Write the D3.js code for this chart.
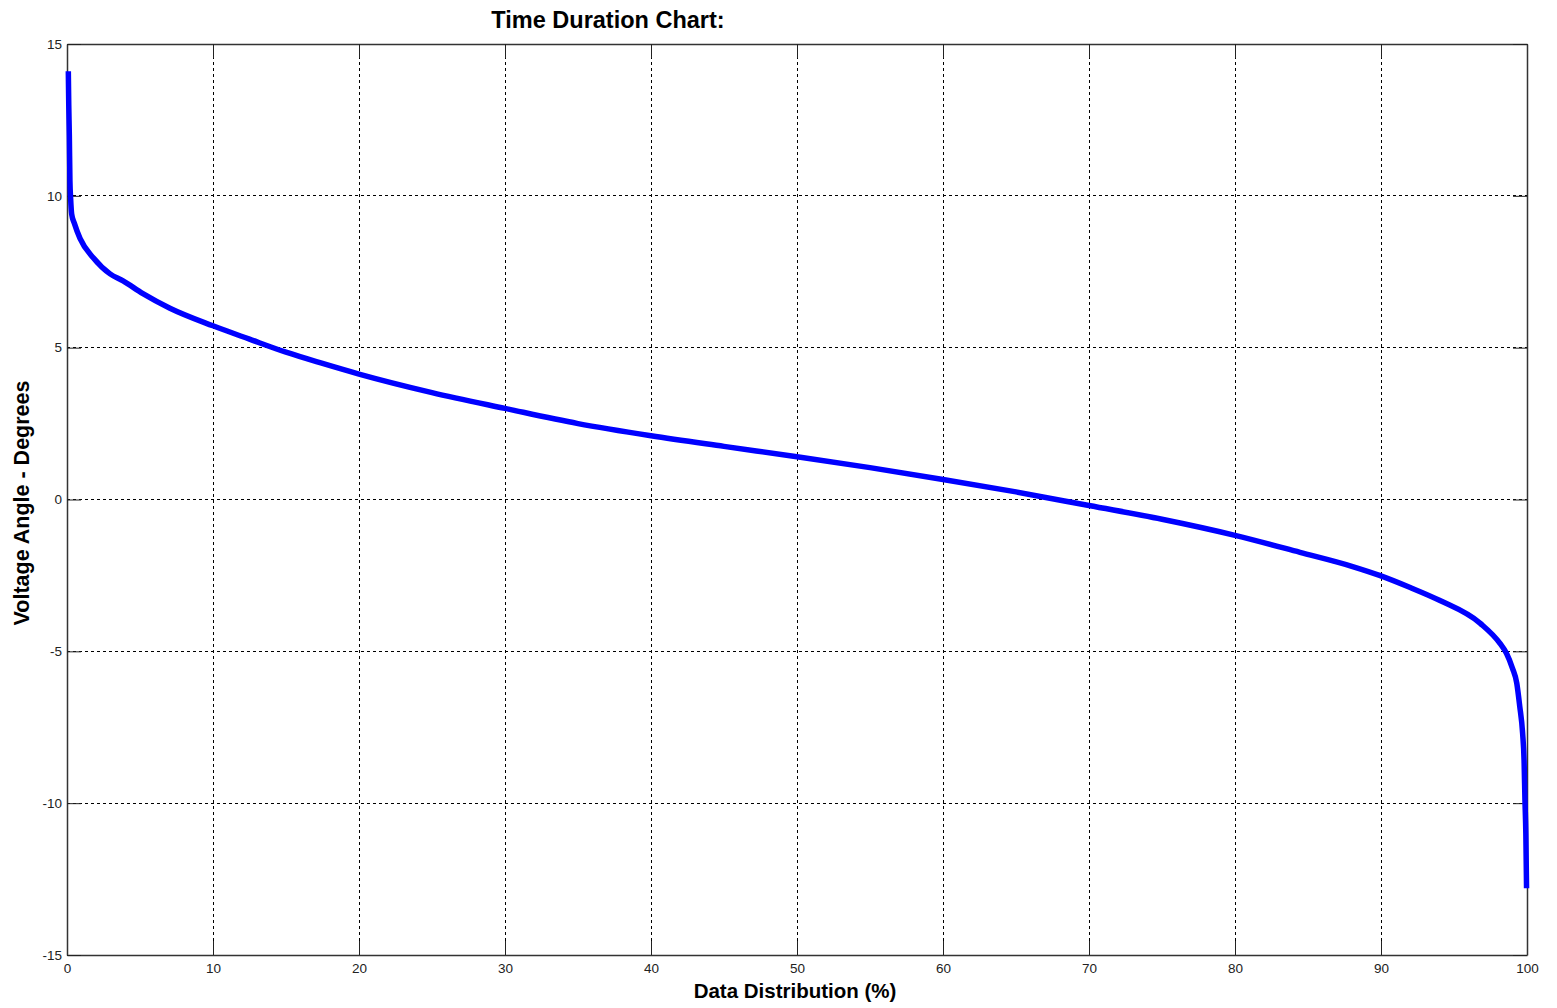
<!DOCTYPE html>
<html><head><meta charset="utf-8">
<script src="https://cdn.jsdelivr.net/npm/d3@7"></script>
<style>body{margin:0;background:#fff;}svg{display:block;font-family:Arial,"Liberation Sans",sans-serif;}</style>
</head><body>
<svg id="c" width="1557" height="1008"></svg>
<script>
const title = "Time Duration Chart:";
const xLabel = "Data Distribution (%)";
const yLabel = "Voltage Angle - Degrees";
const xTicks = [0,10,20,30,40,50,60,70,80,90,100];
const yTicks = [-15,-10,-5,0,5,10,15];
const pct = [0.09,0.12,0.16,0.2,0.25,0.32,0.5,0.89,1.8,2.95,3.84,5.2,7.05,10,12.5,15,17.5,20,25,30,35,40,45,50,55,60,65,70,75,80,84.45,88,89.9,92,94,96.8,98.15,98.6,99.0,99.3,99.5,99.7,99.8,99.86,99.92,99.97];
const angle = [14.1,13.0,12.0,10.5,9.9,9.4,9.1,8.6,7.96,7.43,7.2,6.78,6.3,5.72,5.28,4.85,4.48,4.13,3.52,3.0,2.5,2.1,1.75,1.41,1.05,0.66,0.25,-0.2,-0.65,-1.18,-1.74,-2.2,-2.5,-2.9,-3.32,-4.08,-4.74,-5.07,-5.55,-6.05,-6.8,-7.7,-8.6,-9.9,-11.0,-12.8];

const svg = d3.select("#c");
const L=67,R=1527,T=44,B=955;
const x = d3.scaleLinear().domain([0,100]).range([L,R]);
const y = d3.scaleLinear().domain([-15,15]).range([B,T]);
const tickLen = 14;
const fmt = d => String(d);

const g = svg.append("g");
g.selectAll("line.gx").data(xTicks.slice(1,-1)).join("line")
 .attr("x1",d=>x(d)).attr("x2",d=>x(d)).attr("y1",T).attr("y2",B)
 .attr("stroke","#000").attr("stroke-width",1).attr("stroke-dasharray","3,3").attr("shape-rendering","crispEdges");
g.selectAll("line.gy").data(yTicks.slice(1,-1)).join("line")
 .attr("y1",d=>y(d)).attr("y2",d=>y(d)).attr("x1",L).attr("x2",R)
 .attr("stroke","#000").attr("stroke-width",1).attr("stroke-dasharray","3,3").attr("shape-rendering","crispEdges");

const ax = (sel)=>sel.attr("font-family","Arial, 'Liberation Sans', sans-serif").attr("font-size",13.5);
const xb = g.append("g").attr("transform",`translate(0,${B})`).call(d3.axisBottom(x).tickValues(xTicks).tickFormat(fmt).tickSize(-tickLen).tickPadding(8).tickSizeOuter(0));
const xt = g.append("g").attr("transform",`translate(0,${T})`).call(d3.axisTop(x).tickValues(xTicks).tickSize(-tickLen).tickFormat("").tickSizeOuter(0));
const yl = g.append("g").attr("transform",`translate(${L},0)`).call(d3.axisLeft(y).tickValues(yTicks).tickFormat(fmt).tickSize(-tickLen).tickPadding(5).tickSizeOuter(0));
const yr = g.append("g").attr("transform",`translate(${R},0)`).call(d3.axisRight(y).tickValues(yTicks).tickSize(-tickLen).tickFormat("").tickSizeOuter(0));
[xb,xt,yl,yr].forEach(a=>{ax(a);a.select(".domain").attr("stroke","#333").attr("stroke-width",1.5);a.selectAll(".tick line").attr("stroke","#222");a.selectAll("text").attr("fill","#222");});

const line = d3.line().x((d,i)=>x(pct[i])).y(d=>y(d)).curve(d3.curveMonotoneX);
g.append("path").datum(angle).attr("d",line).attr("fill","none").attr("stroke","#0000ff").attr("stroke-width",5.5).attr("stroke-linejoin","round");

svg.append("text").attr("x",608).attr("y",28).attr("text-anchor","middle").attr("font-weight","bold").attr("font-size",23.5).text(title);
svg.append("text").attr("x",795).attr("y",998).attr("text-anchor","middle").attr("font-weight","bold").attr("font-size",20.5).text(xLabel);
svg.append("text").attr("transform","translate(29,503) rotate(-90)").attr("text-anchor","middle").attr("font-weight","bold").attr("font-size",21.5).text(yLabel);
</script>
</body></html>
